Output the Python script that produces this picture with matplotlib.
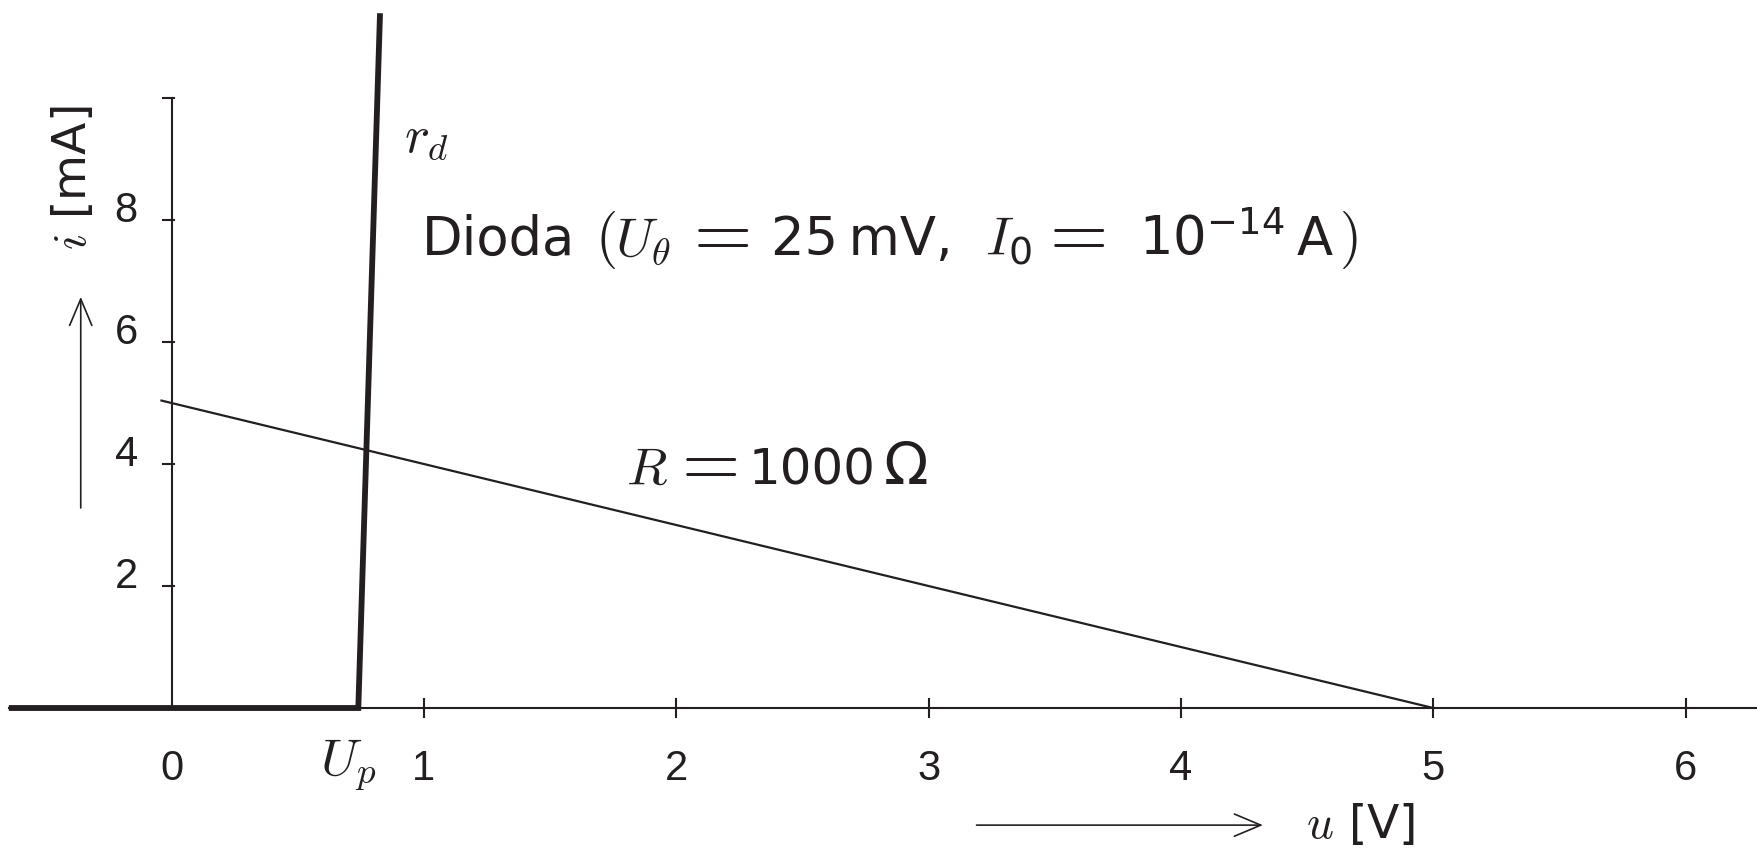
import matplotlib
matplotlib.use('Agg')
import matplotlib.pyplot as plt
import matplotlib.transforms as mtransforms

plt.rcParams['mathtext.fontset'] = 'cm'
plt.rcParams['font.family'] = 'DejaVu Sans'

INK = '#231f20'

# diode characteristic, piecewise-linear model (u in V, i in mA)
diode_u = [-0.645, 0.74, 0.826]
diode_i = [0.0, 0.0, 11.39]

# load line of the resistor
U0 = 5.0      # V
R = 1000.0    # ohm
load_u = [-0.04, 5.0]
load_i = [(U0 - u) / R * 1e3 for u in load_u]

u_ticks = [1, 2, 3, 4, 5, 6]
u_labels = ['0', '1', '2', '3', '4', '5', '6']
u_label_pos = [0, 1, 2, 3, 4, 5, 6]
i_ticks = [2, 4, 6, 8, 10]
i_labels = ['2', '4', '6', '8']

fig = plt.figure(figsize=(17.57, 8.48), dpi=100)
ax = fig.add_axes([0, 0, 1, 1])
ax.set_xlim(-0.68, 6.283)
ax.set_ylim(-2.295, 11.607)
ax.axis('off')
renderer = fig.canvas.get_renderer()


def text_row(x, y, pieces):
    # (text, fontsize, gap before in px) laid out left to right on one baseline
    offset = 0.0
    for s, size, gap in pieces:
        offset += gap
        tr = mtransforms.offset_copy(ax.transData, fig=fig, x=offset, y=0,
                                     units='dots')
        t = ax.text(x, y, s, fontsize=size, ha='left', va='baseline',
                    color=INK, transform=tr)
        offset += t.get_window_extent(renderer).width


# axes drawn by hand
ax.plot([-0.645, 6.283], [0, 0], color=INK, lw=1.5)
ax.plot([0, 0], [0, 10], color=INK, lw=1.5)
for t in u_ticks:
    ax.plot([t, t], [-0.15, 0.15], color=INK, lw=1.5)
for t in i_ticks:
    ax.plot([-0.033, 0.008], [t, t], color=INK, lw=1.5)

for pos, lab in zip(u_label_pos, u_labels):
    ax.text(pos, -1.0, lab, ha='center', va='center', fontsize=30,
            family='Liberation Sans', color=INK)
for pos, lab in zip(i_ticks, i_labels):
    ax.text(-0.18, pos + 0.15, lab, ha='center', va='center', fontsize=30,
            family='Liberation Sans', color=INK)

# curves
ax.plot(load_u, load_i, color=INK, lw=1.6)
ax.plot(diode_u, diode_i, color=INK, lw=4.2, solid_joinstyle='miter',
        solid_capstyle='butt')

# labels
ax.text(0.70, -0.93, r'$U_p$', ha='center', va='center', fontsize=38, color=INK)
ax.text(1.01, 9.36, r'$r_d$', ha='center', va='center', fontsize=38, color=INK)

text_row(0.99, 7.42, [
    ('Dioda', 38, 0),
    (r'$($', 41, 20),
    (r'$U_\theta$', 39, 0),
    (r'$=$', 54, 8),
    ('25\u2009mV,', 38, 22),
    (r'$I_{\mathregular{0}}$', 39, 32),
    (r'$=$', 54, 4),
    (r'$\mathregular{10^{-14}}$', 38, 34),
    ('A', 38, 12),
    (r'$)$', 41, 6),
])

text_row(1.80, 3.67, [
    (r'$R$', 38, 0),
    (r'$=$', 54, 0),
    ('1000', 36, 12),
    ('Ω', 42, 8),
])

# axis names with arrows
ax.text(-0.39, 8.7, r'$i$ [mA]', rotation=90, ha='center',
        va='center', fontsize=34, color=INK)
ax.annotate('', xy=(-0.36, 6.74), xytext=(-0.36, 3.28),
            arrowprops=dict(arrowstyle='->,head_length=0.95,head_width=0.4',
                            lw=1.2, color=INK, mutation_scale=20,
                            shrinkA=0, shrinkB=0))
ax.text(4.71, -1.92, r'$u$ [V]', ha='center', va='center',
        fontsize=34, color=INK)
ax.annotate('', xy=(4.325, -1.92), xytext=(3.19, -1.92),
            arrowprops=dict(arrowstyle='->,head_length=0.95,head_width=0.4',
                            lw=1.2, color=INK, mutation_scale=20,
                            shrinkA=0, shrinkB=0))

fig.savefig('out.png', dpi=100)
